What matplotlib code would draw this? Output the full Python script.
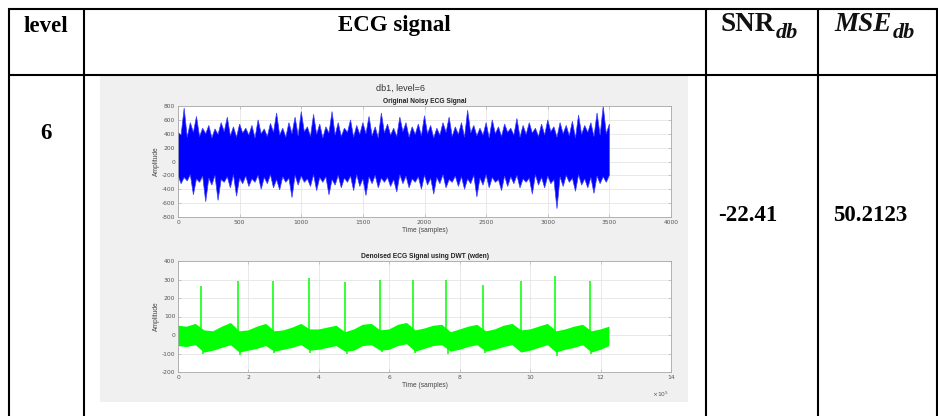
import matplotlib
matplotlib.use('Agg')
import matplotlib.pyplot as plt
import numpy as np
from matplotlib.patches import Rectangle

plt.rcParams['axes.unicode_minus'] = False

W, H = 938, 416

# table text
col_titles = ['level', 'ECG signal']
level = '6'
snr_db = '-22.41'
mse_db = '50.2123'
wavelet_title = 'db1, level=6'

# noisy ECG (upper panel)
# upper fringe: spike tops at 0, 50, ..., 3500 and the dips between them at 25, 75, ...
noisy_top_peak = [420, 770, 560, 650, 480, 520, 470, 560, 640, 500,
                  540, 480, 520, 600, 470, 550, 700, 480, 560, 640,
                  720, 500, 680, 540, 500, 720, 560, 480, 600, 520,
                  560, 650, 500, 700, 540, 480, 640, 560, 500, 540,
                  660, 520, 480, 560, 640, 500, 560, 740, 520, 480,
                  560, 600, 500, 540, 480, 620, 520, 560, 480, 540,
                  600, 500, 560, 520, 580, 670, 520, 560, 700, 800,
                  540]
noisy_top_dip = [380, 350, 420, 360, 400, 340, 390, 430, 370, 350,
                 410, 380, 340, 400, 360, 420, 380, 350, 400, 370,
                 430, 360, 390, 340, 410, 380, 360, 420, 350, 390,
                 400, 370, 340, 410, 380, 360, 430, 350, 390, 370,
                 400, 340, 380, 420, 360, 390, 350, 410, 370, 380,
                 340, 400, 360, 420, 380, 350, 390, 410, 360, 380,
                 430, 350, 400, 370, 340, 390, 420, 360, 380, 400]
# lower fringe: shallow points at 0, 50, ... and deep troughs at 25, 75, ...
noisy_bot_shallow = [-200, -230, -190, -250, -210, -240, -200, -260, -220, -190,
                     -240, -210, -250, -200, -230, -190, -260, -220, -240, -200,
                     -210, -250, -190, -230, -220, -260, -200, -240, -210, -190,
                     -250, -220, -200, -240, -230, -260, -190, -210, -250, -220,
                     -200, -240, -230, -190, -260, -210, -220, -250, -200, -240,
                     -190, -230, -260, -210, -220, -200, -250, -240, -190, -230,
                     -210, -260, -220, -200, -240, -190, -250, -230, -210, -220,
                     -200]
noisy_bot_deep = [-320, -280, -480, -300, -580, -340, -560, -300, -380, -500,
                  -320, -360, -300, -400, -320, -380, -410, -300, -520, -340,
                  -300, -360, -420, -300, -480, -340, -380, -300, -420, -360,
                  -490, -320, -380, -300, -360, -440, -320, -380, -300, -400,
                  -340, -470, -320, -380, -300, -360, -400, -320, -510, -340,
                  -380, -300, -420, -360, -320, -380, -300, -470, -340, -380,
                  -320, -680, -360, -300, -430, -340, -380, -460, -320, -300]

# denoised ECG (lower panel), time in units of 1e5 samples, band every 0.25
clean_up = [50, 45, 60, 25, 20, 45, 65, 20, 25, 45,
            60, 20, 25, 40, 60, 30, 30, 40, 50, 15,
            30, 55, 60, 25, 30, 55, 65, 25, 35, 50,
            55, 15, 30, 45, 55, 20, 30, 50, 60, 25,
            30, 45, 60, 20, 30, 45, 55, 20, 30, 45]
clean_lo = [-60, -65, -55, -95, -85, -70, -55, -95, -85, -75,
            -60, -90, -80, -70, -55, -85, -80, -70, -60, -90,
            -85, -60, -55, -85, -80, -60, -50, -90, -75, -60,
            -55, -90, -80, -65, -55, -90, -80, -65, -55, -95,
            -85, -70, -55, -95, -80, -70, -55, -95, -80, -60]
beat_t = [0.65, 1.70, 2.69, 3.71, 4.74, 5.74, 6.68, 7.61, 8.66, 9.74, 10.71, 11.69]
beat_peak = [265, 290, 290, 310, 285, 300, 300, 295, 270, 290, 320, 290]
beat_dip = [-105, -110, -95, -95, -100, -90, -95, -105, -95, -90, -115, -105]


def box(l, t, r, b):
    return [l / W, 1 - b / H, (r - l) / W, (b - t) / H]


def interleave(a, b):
    out = np.empty(len(a) + len(b))
    out[0::2], out[1::2] = a, b
    return out


def style(ax):
    ax.set_facecolor('white')
    for s in ax.spines.values():
        s.set_color('#a8a8a8')
        s.set_linewidth(0.6)
    ax.tick_params(direction='in', length=2, width=0.4, colors='#a8a8a8',
                   labelcolor='#555555', labelsize=4.3, pad=2, top=True, right=True)
    ax.grid(True, color='#e0e0e0', lw=0.5)
    ax.set_axisbelow(True)


fig = plt.figure(figsize=(W / 100, H / 100), dpi=100)
base = fig.add_axes([0, 0, 1, 1])
base.set_xlim(0, W)
base.set_ylim(H, 0)
base.axis('off')

# table grid
lw = 1.5
for y in [8.5, 74.5]:
    base.plot([8, 937.5], [y, y], color='k', lw=lw, solid_capstyle='butt')
for x in [9, 84, 705.5, 818, 936.5]:
    base.plot([x, x], [8, H], color='k', lw=lw, solid_capstyle='butt')

serif = 'Liberation Serif'
base.text(46, 32.5, col_titles[0], ha='center', va='baseline', family=serif,
          weight='bold', fontsize=16.5)
base.text(394.5, 31.5, col_titles[1], ha='center', va='baseline', family=serif,
          weight='bold', fontsize=16.5)
base.text(46, 139, level, ha='center', va='baseline', family=serif,
          weight='bold', fontsize=16.5)
base.text(718, 221, snr_db, ha='left', va='baseline', family=serif,
          weight='bold', fontsize=16.5)
base.text(833, 221, mse_db, ha='left', va='baseline', family=serif,
          weight='bold', fontsize=16.5)

# header symbols with subscript
fig.canvas.draw()
rend = fig.canvas.get_renderer()
for x0, main, st in [(720, 'SNR', 'normal'), (834, 'MSE', 'italic')]:
    t = base.text(x0, 31, main, ha='left', va='baseline', family=serif,
                  weight='bold', style=st, fontsize=19.5, color='#111111')
    bb = t.get_window_extent(renderer=rend)
    base.text(bb.x1 + 1, H - 37.5, 'db', ha='left', va='baseline', family=serif,
              weight='bold', style='italic', fontsize=16, color='#111111',
              transform=None)

# grey picture panel
base.add_patch(Rectangle((100, 76), 588, 326, facecolor='#f0f0f0', edgecolor='none'))
base.text(400, 91, wavelet_title, ha='center', va='baseline', family='Liberation Sans',
          fontsize=6.5, color='#333333')

# upper panel: noisy signal
top = interleave(noisy_top_peak, noisy_top_dip)
bot = interleave(noisy_bot_shallow, noisy_bot_deep)
xs = np.arange(len(top)) * 25
ax1 = fig.add_axes(box(178, 106, 671, 217))
style(ax1)
ax1.fill(np.r_[xs, xs[::-1]], np.r_[top, bot[::-1]],
         facecolor=(0, 0, 1), edgecolor=(0.25, 0.25, 1), lw=0.5)
ax1.set_xlim(0, 4000)
ax1.set_ylim(-800, 800)
ax1.set_xticks(np.arange(0, 4001, 500))
ax1.set_yticks(np.arange(-800, 801, 200))
ax1.set_title('Original Noisy ECG Signal', fontsize=4.8, weight='bold',
              color='#222222', pad=2, family='Liberation Sans')
ax1.set_xlabel('Time (samples)', fontsize=4.8, color='#444444', labelpad=1.5,
               family='Liberation Sans')
ax1.set_ylabel('Amplitude', fontsize=4.8, color='#444444', labelpad=1.5,
               family='Liberation Sans')

# lower panel: denoised signal
cx = np.arange(len(clean_up)) * 0.25
ax2 = fig.add_axes(box(178, 261, 671, 372))
style(ax2)
ax2.fill(np.r_[cx, cx[::-1]], np.r_[clean_up, clean_lo[::-1]],
         color=(0, 1, 0), lw=0)
ax2.vlines(beat_t, 0, beat_peak, color=(0, 1, 0), lw=1.1)
ax2.vlines(np.array(beat_t) + 0.05, beat_dip, 0, color=(0, 1, 0), lw=1.1)
ax2.set_xlim(0, 14)
ax2.set_ylim(-200, 400)
ax2.set_xticks(np.arange(0, 15, 2))
ax2.set_yticks(np.arange(-200, 401, 100))
ax2.set_title('Denoised ECG Signal using DWT (wden)', fontsize=4.8, weight='bold',
              color='#222222', pad=2, family='Liberation Sans')
ax2.set_xlabel('Time (samples)', fontsize=4.8, color='#444444', labelpad=1.5,
               family='Liberation Sans')
ax2.set_ylabel('Amplitude', fontsize=4.8, color='#444444', labelpad=1.5,
               family='Liberation Sans')
base.text(661, 397, r'$\times10^5$', ha='center', va='baseline', fontsize=4.3,
          color='#555555')

fig.savefig('out.png', dpi=100)
